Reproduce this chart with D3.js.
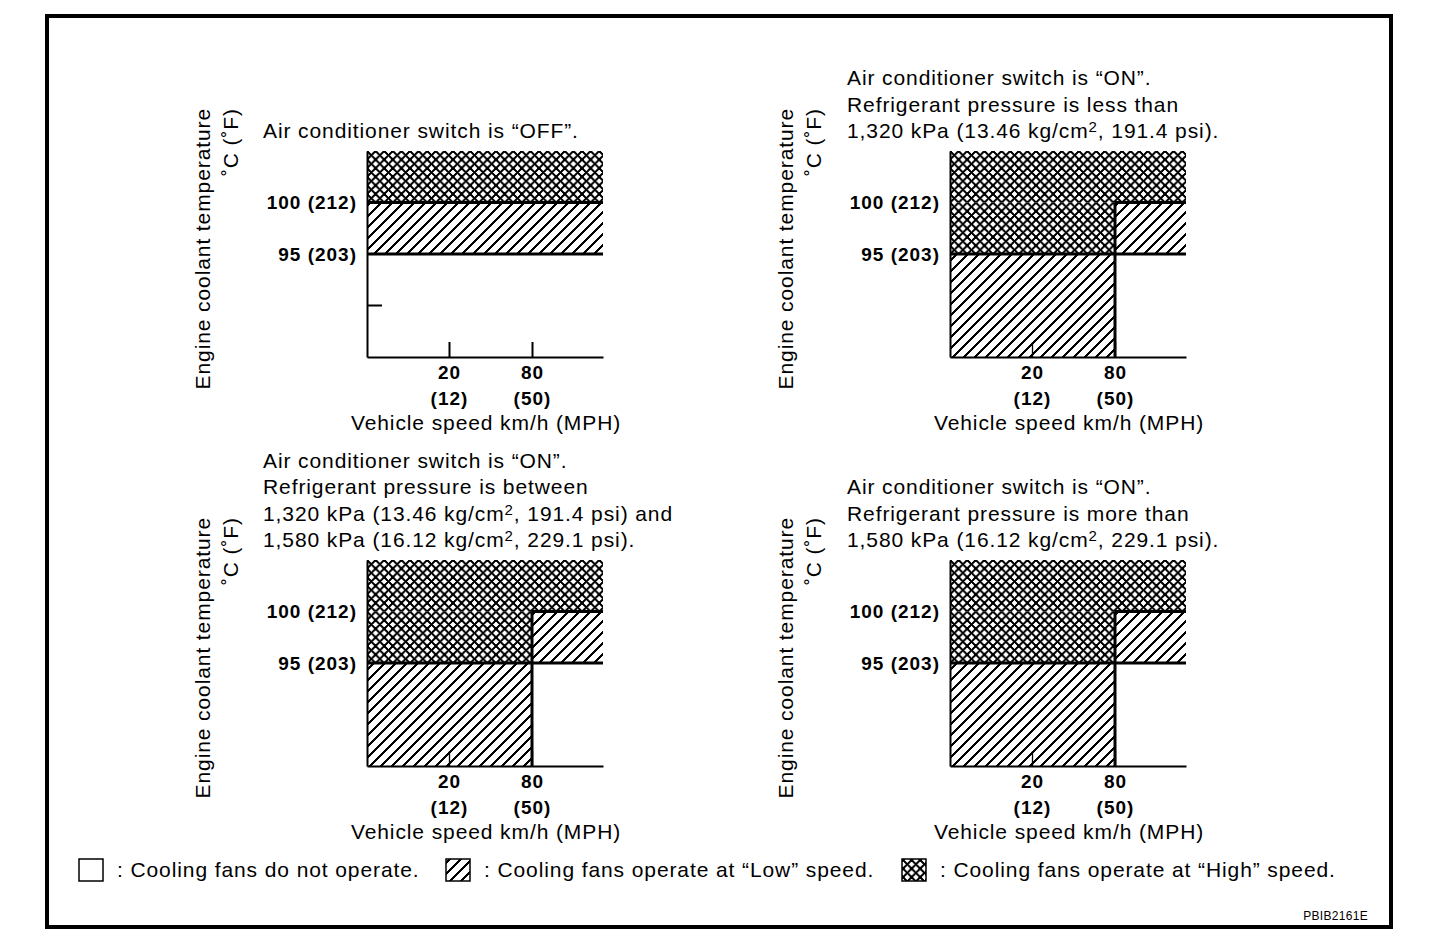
<!DOCTYPE html>
<html>
<head>
<meta charset="utf-8">
<script src="https://cdn.jsdelivr.net/npm/d3@7"></script>
<style>
  body { margin: 0; background: #fff; }
  text { font-family: "Liberation Sans", Arial, Helvetica, sans-serif; fill: #000; }
  .txt { font-size: 21px; letter-spacing: 0.9px; }
  .bold { font-size: 19px; font-weight: bold; letter-spacing: 1px; }
</style>
</head>
<body>
<svg id="chart" width="1440" height="950"></svg>
<script>
// --- data ---
const speedTicks = [20, 80];          // km/h
const speedTicksMph = [12, 50];
const tempTicks = [100, 95];          // deg C
const tempTicksF = [212, 203];
const tempMinorTick = [90];
const speedMax = 110;
const tempMin = 85, tempMax = 105;

const titles = [
  ["Air conditioner switch is \u201COFF\u201D."],
  ["Air conditioner switch is \u201CON\u201D.",
   "Refrigerant pressure is less than",
   "1,320 kPa (13.46 kg/cm{2}, 191.4 psi)."],
  ["Air conditioner switch is \u201CON\u201D.",
   "Refrigerant pressure is between",
   "1,320 kPa (13.46 kg/cm{2}, 191.4 psi) and",
   "1,580 kPa (16.12 kg/cm{2}, 229.1 psi)."],
  ["Air conditioner switch is \u201CON\u201D.",
   "Refrigerant pressure is more than",
   "1,580 kPa (16.12 kg/cm{2}, 229.1 psi)."]
];

// regions: [speed from, speed to, temp from, temp to, fan mode]
const regionsOff = [
  [0, speedMax, 100, tempMax, "high"],
  [0, speedMax, 95, 100, "low"]
];
const regionsOn = [
  [0, speedMax, 100, tempMax, "high"],
  [0, 80, 95, 100, "high"],
  [0, 80, tempMin, 95, "low"],
  [80, speedMax, 95, 100, "low"]
];
// boundary lines: [speed1, temp1, speed2, temp2]
const boundsOff = [[0, 100, speedMax, 100], [0, 95, speedMax, 95]];
const boundsOn = [[0, 95, speedMax, 95], [80, 100, speedMax, 100], [80, tempMin, 80, 100]];

const panelRegions = [regionsOff, regionsOn, regionsOn, regionsOn];
const panelBounds = [boundsOff, boundsOn, boundsOn, boundsOn];

const legendModes = ["none", "low", "high"];
const legendLabels = [
  ": Cooling fans do not operate.",
  ": Cooling fans operate at \u201CLow\u201D speed.",
  ": Cooling fans operate at \u201CHigh\u201D speed."
];

// --- layout ---
const panelPos = [[367, 151], [950, 151], [367, 560], [950, 560]];
const titleLeft = [263, 847, 263, 847];
const plotW = 236, plotH = 206;
const legendX = [79, 446, 902];
const legendY = 870;

const svg = d3.select("#chart");

// hatch patterns
const defs = svg.append("defs");
function diag(p) {
  return `M0,${p}L${p},0M-3,3L3,-3M${p - 3},${p + 3}L${p + 3},${p - 3}`;
}
function anti(p) {
  return `M0,0L${p},${p}M-3,${p - 3}L3,${p + 3}M${p - 3},-3L${p + 3},3`;
}
const PL = 11, PH = 8.6;
defs.append("pattern")
  .attr("id", "low").attr("patternUnits", "userSpaceOnUse")
  .attr("width", PL).attr("height", PL)
  .append("path")
  .attr("d", diag(PL))
  .attr("shape-rendering", "crispEdges")
  .attr("stroke", "#000").attr("stroke-width", 2.4);
defs.append("pattern")
  .attr("id", "high").attr("patternUnits", "userSpaceOnUse")
  .attr("width", PH).attr("height", PH)
  .append("path")
  .attr("d", diag(PH) + anti(PH))
  .attr("shape-rendering", "crispEdges")
  .attr("stroke", "#000").attr("stroke-width", 1.7);

const fillFor = (m) => (m === "none" ? "#fff" : `url(#${m})`);

// outer frame
svg.append("rect")
  .attr("x", 47).attr("y", 16).attr("width", 1344).attr("height", 911)
  .attr("fill", "none").attr("stroke", "#000").attr("stroke-width", 4);

const x = d3.scaleLinear().domain([0, 20, 80, speedMax]).range([0, 82, 165, plotW]);
const y = d3.scaleLinear().domain([tempMin, tempMax]).range([plotH, 0]);

function addText(sel, str) {
  const parts = str.split(/\{(\d)\}/);
  parts.forEach((p, i) => {
    if (i % 2 === 0) {
      sel.append("tspan").text(p).attr("dy", i > 0 ? 6 : null);
    } else {
      sel.append("tspan").text(p).attr("font-size", 15).attr("dy", -6);
    }
  });
}

panelPos.forEach((pos, pi) => {
  const g = svg.append("g").attr("transform", `translate(${pos[0]},${pos[1]})`);

  // title lines (last line sits just above the plot)
  const lines = titles[pi];
  lines.forEach((ln, li) => {
    const t = svg.append("text").attr("class", "txt")
      .attr("x", titleLeft[pi])
      .attr("y", pos[1] - 13 - (lines.length - 1 - li) * 26.5);
    addText(t, ln);
  });

  // regions
  g.selectAll("rect.region")
    .data(panelRegions[pi])
    .join("rect")
    .attr("class", "region")
    .attr("x", d => x(d[0]))
    .attr("width", d => x(d[1]) - x(d[0]))
    .attr("y", d => y(d[3]))
    .attr("height", d => y(d[2]) - y(d[3]))
    .attr("fill", d => fillFor(d[4]));

  // x axis
  const xa = g.append("g").attr("transform", `translate(0,${plotH})`)
    .call(d3.axisBottom(x).tickValues(speedTicks).tickSizeInner(-15).tickSizeOuter(0).tickPadding(9));
  xa.select(".domain").attr("stroke-width", 2);
  xa.selectAll(".tick line").attr("stroke-width", pi === 0 ? 2 : 1.3);
  xa.selectAll(".tick text")
    .attr("class", "bold")
    .each(function (d, i) {
      const t = d3.select(this).text(null);
      t.append("tspan").attr("x", 0).text(d);
      t.append("tspan").attr("x", 0).attr("dy", 26).text(`(${speedTicksMph[i]})`);
    });
  xa.attr("font-size", null).attr("font-family", null);

  // y axis
  const ya = g.append("g")
    .call(d3.axisLeft(y).tickValues(tempTicks).tickSize(0).tickPadding(10)
      .tickFormat((d, i) => `${d} (${tempTicksF[i]})`));
  ya.select(".domain").attr("stroke-width", 2);
  ya.selectAll(".tick text").attr("class", "bold");
  ya.attr("font-size", null).attr("font-family", null);

  if (pi === 0) {
    g.selectAll("line.minor")
      .data(tempMinorTick)
      .join("line")
      .attr("class", "minor")
      .attr("x1", 0).attr("x2", 15)
      .attr("y1", d => y(d)).attr("y2", d => y(d))
      .attr("stroke", "#000").attr("stroke-width", 2);
  }

  // boundaries
  g.selectAll("line.bound")
    .data(panelBounds[pi])
    .join("line")
    .attr("class", "bound")
    .attr("x1", d => x(d[0])).attr("y1", d => y(d[1]))
    .attr("x2", d => x(d[2])).attr("y2", d => y(d[3]))
    .attr("stroke", "#000").attr("stroke-width", 3);

  // axis titles
  g.append("text").attr("class", "txt")
    .attr("text-anchor", "middle")
    .attr("x", 119).attr("y", plotH + 73)
    .text("Vehicle speed km/h (MPH)");
  const yt = g.append("text").attr("class", "txt")
    .attr("text-anchor", "end")
    .attr("transform", `translate(-157,-43) rotate(-90)`);
  yt.append("tspan").attr("x", 0).attr("y", 0).text("Engine coolant temperature");
  yt.append("tspan").attr("x", 0).attr("y", 28).text("\u02DAC (\u02DAF)");
});

// legend
const lg = svg.append("g");
legendModes.forEach((m, i) => {
  lg.append("rect")
    .attr("x", legendX[i]).attr("y", legendY - 11)
    .attr("width", 24).attr("height", 22)
    .attr("fill", fillFor(m)).attr("stroke", "#000").attr("stroke-width", 1.5);
  lg.append("text").attr("class", "txt")
    .attr("x", legendX[i] + 38).attr("y", legendY + 7)
    .text(legendLabels[i]);
});

svg.append("text")
  .attr("x", 1368).attr("y", 920)
  .attr("text-anchor", "end")
  .attr("font-size", 12).attr("letter-spacing", 0.3)
  .text("PBIB2161E");
</script>
</body>
</html>
